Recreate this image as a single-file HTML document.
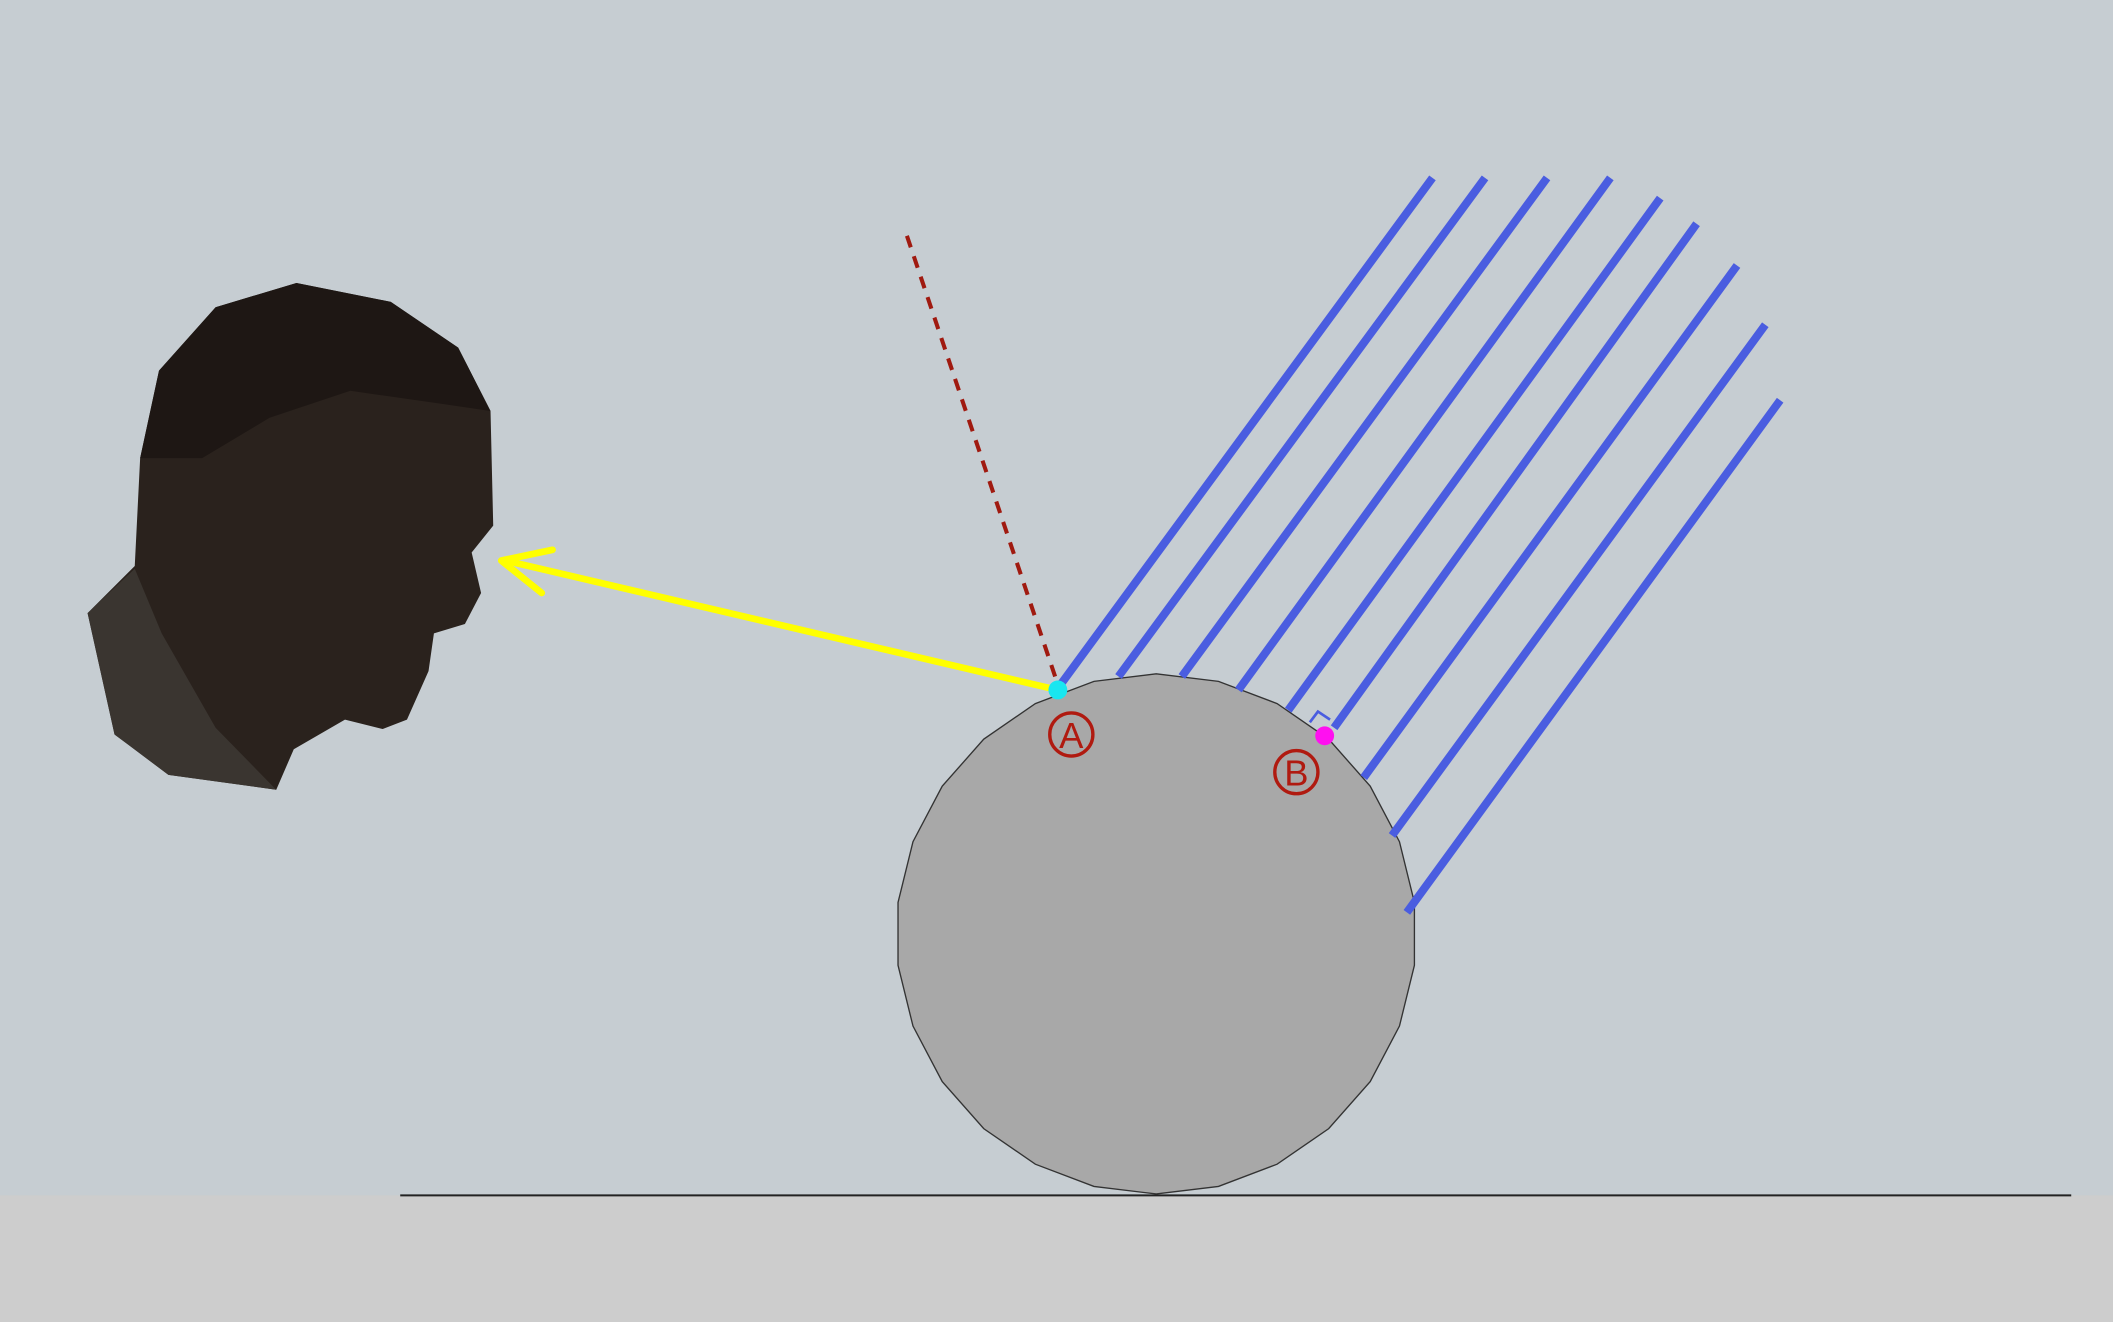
<!DOCTYPE html>
<html>
<head>
<meta charset="utf-8">
<style>
  html, body { margin: 0; padding: 0; }
  body { width: 2113px; height: 1322px; overflow: hidden; background: #c6cdd2; }
  svg { display: block; }
</style>
</head>
<body>
<svg id="scene" width="2113" height="1322" viewBox="0 0 1568 981" preserveAspectRatio="none" xmlns="http://www.w3.org/2000/svg">
  <rect x="0" y="0" width="1568" height="887" fill="#c6cdd2"/>
  <rect x="0" y="887" width="1568" height="94" fill="#cdcdcd"/>
  <line x1="297" y1="887" x2="1537" y2="887" stroke="#222" stroke-width="1.5"/>
  <polygon id="sphere" fill="#a8a8a8" stroke="#333" stroke-width="1"/>
  <g id="rays"></g>
  <line x1="673" y1="175" x2="785" y2="508" stroke="#a01a10" stroke-width="3" stroke-dasharray="9,7"/>
  <path d="M972,536 L978,528 L987,534" fill="none" stroke="#4a5de0" stroke-width="2"/>
  <g>
    <line x1="785" y1="512" x2="375" y2="416" stroke="#ffff00" stroke-width="5"/>
    <path d="M410,408 L372,416 L402,440" fill="none" stroke="#ffff00" stroke-width="5" stroke-linecap="round" stroke-linejoin="round"/>
  </g>
  <circle cx="785" cy="512" r="7" fill="#19e6f0"/>
  <circle cx="983" cy="546" r="7" fill="#ff10f0"/>
  <g>
    <circle cx="795" cy="545" r="16" fill="none" stroke="#b01a10" stroke-width="2.5"/>
    <text x="795" y="555" text-anchor="middle" font-family="Liberation Sans, sans-serif" font-size="27" fill="#b01a10">A</text>
  </g>
  <g>
    <circle cx="962" cy="573" r="16" fill="none" stroke="#b01a10" stroke-width="2.5"/>
    <text x="962" y="583" text-anchor="middle" font-family="Liberation Sans, sans-serif" font-size="27" fill="#b01a10">B</text>
  </g>
  <g>
    <path d="M65,455 L100,420 L104,340 L118,275 L160,228 L220,210 L290,224 L340,258 L364,305 L366,390 L350,410 L357,440 L345,463 L322,470 L318,498 L302,534 L284,541 L256,534 L218,556 L205,586 L125,575 L85,545 Z" fill="#2a221d"/>
    <path d="M65,455 L100,422 L120,470 L160,540 L205,586 L125,575 L85,545 Z" fill="#3a3530"/>
    <path d="M104,340 L118,275 L160,228 L220,210 L290,224 L340,258 L364,305 L330,300 L260,290 L200,310 L150,340 Z" fill="#1e1714"/>
  </g>
</svg>
<script>
  // ray endpoints (start on sphere, end at top) in diagram units
  var rayStartX = [787, 830, 877, 919, 956, 990, 1012, 1033, 1044];
  var rayStartY = [508, 502, 502, 512, 527, 540, 577, 620, 677];
  var rayEndX = [1063, 1102, 1148, 1195, 1232, 1259, 1289, 1310, 1321];
  var rayEndY = [132, 132, 132, 132, 147, 166, 197, 241, 297];
  var sphereCx = 858, sphereCy = 693, sphereR = 193, sphereSides = 26;

  var NS = 'http://www.w3.org/2000/svg';
  var g = document.getElementById('rays');
  for (var i = 0; i < rayStartX.length; i++) {
    var l = document.createElementNS(NS, 'line');
    l.setAttribute('x1', rayStartX[i]);
    l.setAttribute('y1', rayStartY[i]);
    l.setAttribute('x2', rayEndX[i]);
    l.setAttribute('y2', rayEndY[i]);
    l.setAttribute('stroke', '#4a5de0');
    l.setAttribute('stroke-width', '6');
    
    
    g.appendChild(l);
  }
  var pts = [];
  for (var k = 0; k < sphereSides; k++) {
    var a = Math.PI / 2 + k * 2 * Math.PI / sphereSides;
    pts.push((sphereCx + sphereR * Math.cos(a)).toFixed(1) + ',' + (sphereCy + sphereR * Math.sin(a)).toFixed(1));
  }
  document.getElementById('sphere').setAttribute('points', pts.join(' '));
</script>
</body>
</html>
